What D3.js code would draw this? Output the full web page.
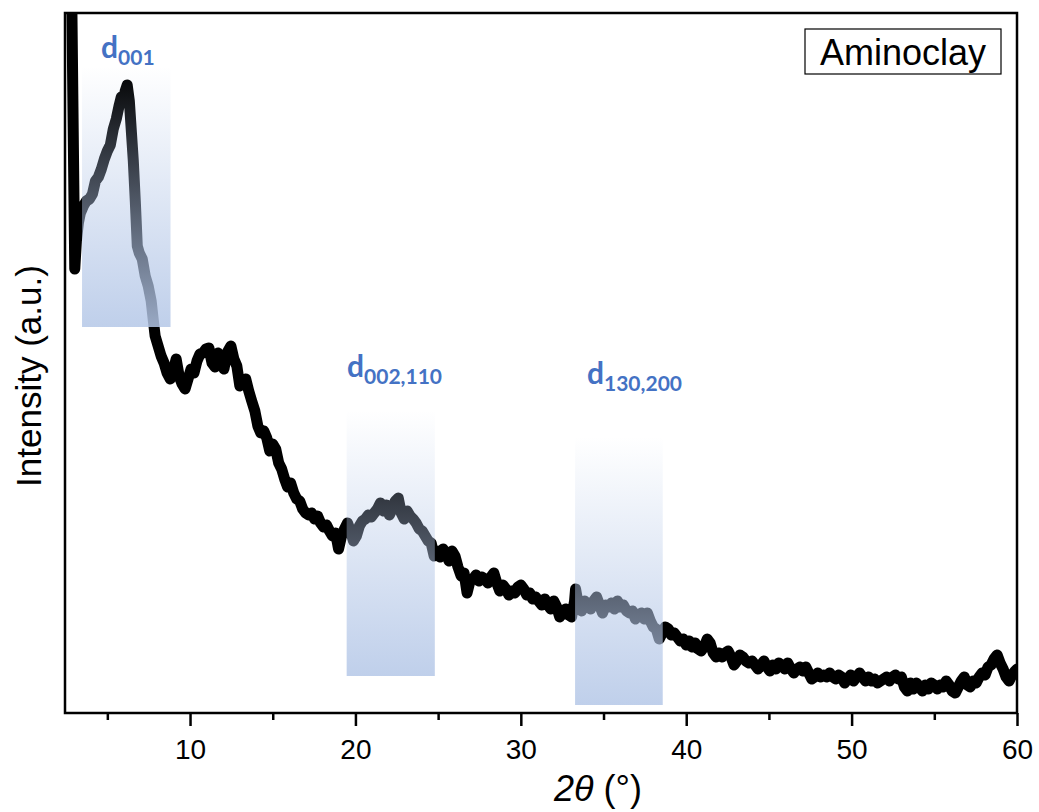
<!DOCTYPE html>
<html>
<head>
<meta charset="utf-8">
<title>Aminoclay XRD</title>
<script src="https://cdn.jsdelivr.net/npm/d3@7"></script>
<style>
	html, body { margin: 0; padding: 0; background: #fff; }
	svg { display: block; }
</style>
</head>
<body>
<div id="chart"></div>
<script>
// XRD pattern of aminoclay
// [2theta (deg), intensity (a.u.)]
const pattern = [
	[2.82,760],[2.95,562],[3.03,444],[3.13,472],[3.25,490],[3.37,500],[3.55,507],[3.73,512],[3.92,514],[4.10,519],
	[4.28,532],[4.46,536],[4.64,544],[4.82,554],[5.00,562],[5.18,568],[5.36,584],[5.54,594],[5.72,608],[5.84,616],
	[5.96,612],[6.08,622],[6.20,628],[6.33,612],[6.45,582],[6.57,552],[6.69,512],[6.81,467],[6.93,460],[7.11,454],
	[7.29,437],[7.47,427],[7.65,412],[7.77,394],[7.89,377],[8.07,367],[8.25,357],[8.43,350],[8.61,340],[8.80,334],
	[8.98,342],[9.16,354],[9.34,337],[9.52,329],[9.70,324],[9.88,334],[10.06,344],[10.24,340],[10.42,352],[10.60,359],
	[10.78,360],[10.96,364],[11.14,365],[11.33,350],[11.51,346],[11.69,360],[11.87,352],[12.05,344],[12.23,360],[12.47,367],
	[12.65,354],[12.83,347],[13.01,327],[13.19,330],[13.37,334],[13.55,322],[13.73,312],[13.92,302],[14.10,287],[14.28,280],
	[14.46,282],[14.64,275],[14.82,262],[15.00,269],[15.18,264],[15.36,250],[15.54,244],[15.72,234],[15.90,226],[16.08,230],
	[16.27,220],[16.45,214],[16.63,212],[16.81,204],[16.99,200],[17.17,198],[17.35,200],[17.53,194],[17.71,197],[17.89,190],
	[18.07,186],[18.25,188],[18.43,182],[18.61,177],[18.80,180],[18.98,164],[19.16,177],[19.34,184],[19.52,190],[19.70,182],
	[19.88,172],[20.06,177],[20.24,187],[20.42,192],[20.60,194],[20.78,198],[20.96,196],[21.14,200],[21.33,204],[21.51,210],
	[21.69,202],[21.87,208],[22.05,198],[22.23,204],[22.41,212],[22.59,215],[22.77,200],[22.95,194],[23.13,202],[23.31,197],
	[23.49,194],[23.67,190],[23.86,184],[24.04,182],[24.22,177],[24.40,172],[24.58,170],[24.76,157],[24.94,162],[25.12,156],
	[25.30,164],[25.48,160],[25.66,152],[25.84,162],[26.02,157],[26.20,146],[26.39,137],[26.57,140],[26.75,120],[26.93,132],
	[27.11,134],[27.29,138],[27.47,132],[27.65,136],[27.83,134],[28.01,130],[28.19,136],[28.37,140],[28.55,130],[28.73,122],
	[28.92,128],[29.10,124],[29.28,118],[29.46,122],[29.64,120],[29.82,126],[30.00,128],[30.18,124],[30.36,118],[30.54,120],
	[30.72,114],[30.90,116],[31.08,112],[31.27,108],[31.45,114],[31.63,108],[31.81,104],[31.99,112],[32.17,106],[32.35,96],
	[32.53,102],[32.71,104],[32.89,98],[33.07,96],[33.25,112],[33.31,124],[33.49,107],[33.67,102],[33.86,112],[34.04,108],
	[34.22,104],[34.40,112],[34.58,116],[34.76,108],[34.94,100],[35.12,108],[35.30,106],[35.48,110],[35.66,104],[35.84,112],
	[36.02,106],[36.20,108],[36.39,102],[36.57,100],[36.75,102],[36.93,94],[37.11,98],[37.29,100],[37.47,94],[37.65,100],
	[37.83,92],[38.01,86],[38.19,84],[38.37,74],[38.55,80],[38.73,86],[38.92,84],[39.10,78],[39.28,80],[39.46,76],
	[39.64,72],[39.82,74],[40.00,68],[40.18,72],[40.36,66],[40.54,70],[40.72,64],[40.90,62],[41.08,66],[41.27,74],
	[41.45,70],[41.63,60],[41.81,56],[41.99,60],[42.17,56],[42.35,60],[42.53,62],[42.71,56],[42.89,48],[43.07,52],
	[43.25,58],[43.43,56],[43.61,52],[43.80,50],[43.98,52],[44.16,48],[44.34,44],[44.52,48],[44.70,52],[44.88,46],
	[45.06,42],[45.24,48],[45.42,44],[45.60,50],[45.78,48],[45.96,44],[46.14,50],[46.33,44],[46.51,40],[46.69,44],
	[46.87,46],[47.05,42],[47.23,46],[47.41,40],[47.59,34],[47.77,36],[47.95,40],[48.13,36],[48.31,38],[48.49,36],
	[48.67,40],[48.86,36],[49.04,34],[49.22,38],[49.40,36],[49.58,30],[49.76,34],[49.94,38],[50.12,32],[50.30,36],
	[50.48,40],[50.66,36],[50.84,32],[51.02,36],[51.20,32],[51.39,34],[51.57,30],[51.75,32],[51.93,34],[52.11,36],
	[52.29,32],[52.47,36],[52.65,38],[52.83,34],[53.01,36],[53.19,26],[53.37,22],[53.55,30],[53.73,24],[53.92,30],
	[54.10,26],[54.28,22],[54.46,28],[54.64,24],[54.82,30],[55.00,28],[55.18,24],[55.36,28],[55.54,26],[55.72,32],
	[55.90,28],[56.08,22],[56.27,20],[56.45,26],[56.63,32],[56.81,36],[56.99,28],[57.17,26],[57.35,32],[57.53,30],
	[57.71,36],[57.89,40],[58.07,38],[58.25,46],[58.43,48],[58.61,54],[58.80,58],[58.98,50],[59.16,44],[59.34,36],
	[59.52,32],[59.70,38],[59.88,42],[60.00,44]
];

const majorTicks = [10, 20, 30, 40, 50, 60];
const minorTicks = [5, 15, 25, 35, 45, 55];

// highlighted reflections: 2theta span, intensity span, label anchor
const reflections = [
	{ sub: '001', from: 3.47, to: 8.82, low: 386, high: 647, labelAt: [4.62, 655] },
	{ sub: '002,110', from: 19.47, to: 24.8, low: 37, high: 303, labelAt: [19.49, 336] },
	{ sub: '130,200', from: 33.28, to: 38.58, low: 8, high: 276, labelAt: [34.0, 329] }
];

const sampleName = 'Aminoclay';

(function() {
	'use strict';

	const width = 1039;
	const height = 812;
	const margin = { top: 13, right: 22, bottom: 99, left: 65 };
	const w = width - margin.left - margin.right;
	const h = height - margin.top - margin.bottom;
	const axisFont = '"Liberation Sans", Arial, sans-serif';

	const svg = d3.select('#chart')
		.append('svg')
		.attr('width', width)
		.attr('height', height);

	const defs = svg.append('defs');

	// fade from clear at the top to light blue at the bottom
	const grad = defs.append('linearGradient')
		.attr('id', 'band-fade')
		.attr('x1', 0).attr('y1', 0)
		.attr('x2', 0).attr('y2', 1);
	grad.append('stop').attr('offset', '0%')
		.attr('stop-color', '#b4c7e7').attr('stop-opacity', 0);
	grad.append('stop').attr('offset', '100%')
		.attr('stop-color', '#b4c7e7').attr('stop-opacity', 0.85);

	defs.append('clipPath')
		.attr('id', 'plot-clip')
		.append('rect')
		.attr('width', w)
		.attr('height', h);

	const g = svg.append('g')
		.attr('transform', 'translate(' + margin.left + ',' + margin.top + ')');

	const x = d3.scaleLinear().domain([2.44, 60]).range([0, w]);
	const y = d3.scaleLinear().domain([0, 700]).range([h, 0]);

	// Pattern line
	const line = d3.line()
		.x(function(d) { return x(d[0]); })
		.y(function(d) { return y(d[1]); });

	g.append('path')
		.datum(pattern)
		.attr('clip-path', 'url(#plot-clip)')
		.attr('fill', 'none')
		.attr('stroke', '#000')
		.attr('stroke-width', 11)
		.attr('stroke-linejoin', 'round')
		.attr('stroke-linecap', 'round')
		.attr('d', line);

	// Highlight bands sit over the line
	g.append('g')
		.selectAll('rect')
		.data(reflections)
		.enter().append('rect')
		.attr('x', function(d) { return x(d.from); })
		.attr('y', function(d) { return y(d.high); })
		.attr('width', function(d) { return x(d.to) - x(d.from); })
		.attr('height', function(d) { return y(d.low) - y(d.high); })
		.attr('fill', 'url(#band-fade)');

	// d-spacing labels
	const labels = g.append('g')
		.selectAll('text')
		.data(reflections)
		.enter().append('text')
		.attr('x', function(d) { return x(d.labelAt[0]); })
		.attr('y', function(d) { return y(d.labelAt[1]); })
		.attr('fill', '#4472c4')
		.attr('font-family', 'Lato, "Open Sans", sans-serif')
		.attr('font-weight', 'bold');
	labels.append('tspan')
		.attr('font-size', 30)
		.text('d');
	labels.append('tspan')
		.attr('font-size', 21)
		.attr('dy', 7)
		.text(function(d) { return d.sub; });

	// Bottom axis, major and minor ticks
	const major = g.append('g')
		.attr('transform', 'translate(0,' + h + ')')
		.call(d3.axisBottom(x).tickValues(majorTicks).tickSize(13).tickPadding(13)
			.tickFormat(d3.format('d')));
	const minor = g.append('g')
		.attr('transform', 'translate(0,' + h + ')')
		.call(d3.axisBottom(x).tickValues(minorTicks).tickSize(7).tickFormat(''));

	[major, minor].forEach(function(ax) {
		ax.select('.domain').remove();
		ax.selectAll('line').attr('stroke', '#000').attr('stroke-width', 2.5);
	});
	major.selectAll('text')
		.attr('fill', '#000')
		.attr('font-family', axisFont)
		.attr('font-size', 28);

	// Frame
	g.append('rect')
		.attr('width', w)
		.attr('height', h)
		.attr('fill', 'none')
		.attr('stroke', '#000')
		.attr('stroke-width', 2.5);

	// Axis titles
	const xt = svg.append('text')
		.attr('x', 598)
		.attr('y', 801)
		.attr('text-anchor', 'middle')
		.attr('font-family', axisFont)
		.attr('font-size', 36)
		.attr('fill', '#000');
	xt.append('tspan').attr('font-style', 'italic').text('2\u03b8');
	xt.append('tspan').text(' (\u00b0)');

	svg.append('text')
		.attr('transform', 'translate(41,376) rotate(-90)')
		.attr('text-anchor', 'middle')
		.attr('font-family', axisFont)
		.attr('font-size', 35)
		.attr('fill', '#000')
		.text('Intensity (a.u.)');

	// Sample name box
	const legend = g.append('g')
		.attr('transform', 'translate(' + (w - 212) + ',16)');
	legend.append('rect')
		.attr('width', 196)
		.attr('height', 45)
		.attr('fill', '#fff')
		.attr('stroke', '#000')
		.attr('stroke-width', 1.2);
	legend.append('text')
		.attr('x', 98)
		.attr('y', 36)
		.attr('text-anchor', 'middle')
		.attr('font-family', axisFont)
		.attr('font-size', 36)
		.attr('fill', '#000')
		.text(sampleName);
})();
</script>
</body>
</html>
